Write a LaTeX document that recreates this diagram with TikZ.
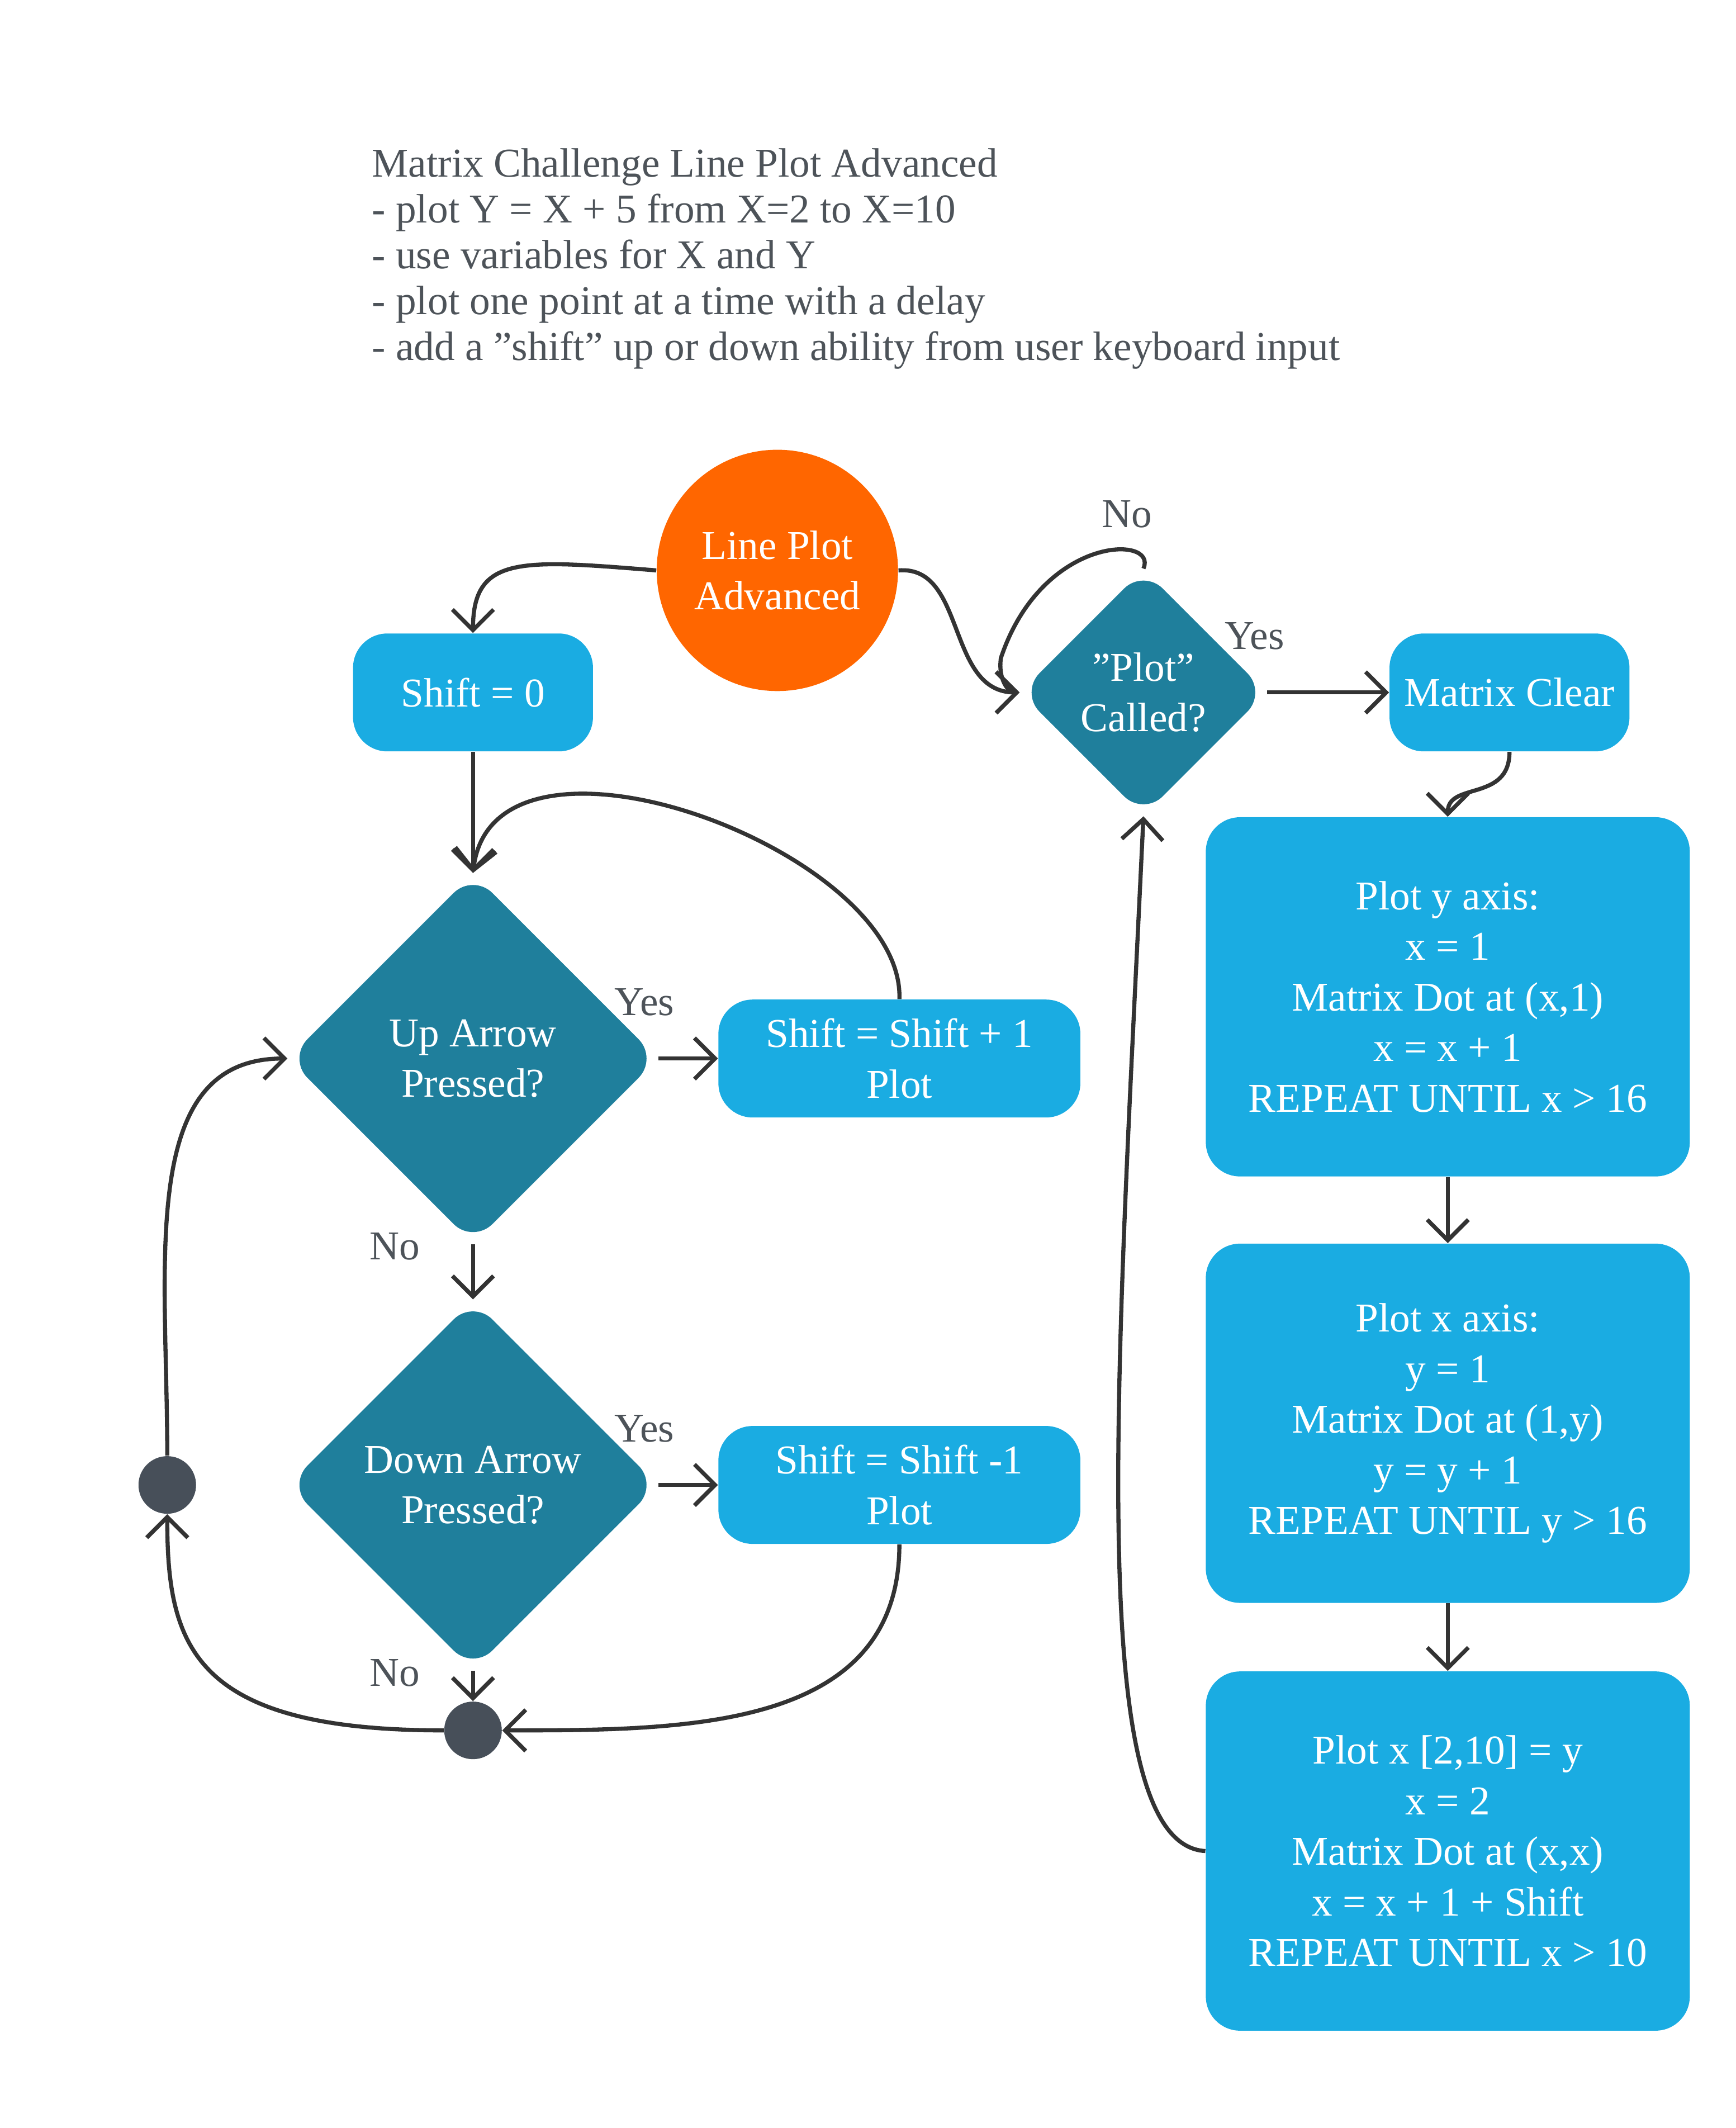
\documentclass[tikz,border=0pt]{standalone}
\usepackage{fontspec}
\setmainfont{Liberation Serif}
\usetikzlibrary{shapes.geometric,arrows.meta,positioning}
\definecolor{boxblue}{HTML}{1AACE2}
\definecolor{teal}{HTML}{1F7F9C}
\definecolor{orng}{HTML}{FF6600}
\definecolor{dotgray}{HTML}{474F59}
\definecolor{txtgray}{HTML}{4D5359}
\definecolor{linegray}{HTML}{333333}
\tikzset{
  box/.style={fill=boxblue,rounded corners=0.5cm,text=white,align=center,minimum width=3.5cm,minimum height=1.72cm,inner sep=0pt},
  bigbox/.style={box,minimum width=7.06cm,minimum height=5.24cm},
  decide/.style={diamond,aspect=1,fill=teal,rounded corners=0.4cm,text=white,align=center,inner sep=0pt},
  dot/.style={circle,fill=dotgray,minimum size=0.84cm,inner sep=0pt},
  lbl/.style={text=txtgray},
  flow/.style={draw=linegray,line width=1.7pt,-{Straight Barb[length=3mm,width=6mm]}}
}
\begin{document}
\begin{tikzpicture}[x=0.2mm,y=-0.2mm,font=\fontsize{17}{21}\selectfont]
  \useasboundingbox (0,0) rectangle (1266,1552);
  % Title
  \node[lbl,anchor=north west,align=left,inner sep=0pt] (title) at (271,108)
    {Matrix Challenge Line Plot Advanced\\[-2pt]
     - plot Y = X + 5 from X=2 to X=10\\[-2pt]
     - use variables for X and Y\\[-2pt]
     - plot one point at a time with a delay\\[-2pt]
     - add a "shift" up or down ability from user keyboard input};
  % Nodes
  \node[circle,fill=orng,text=white,align=center,minimum size=3.52cm] (start) at (567,416) {Line Plot\\Advanced};
  \node[box] (shift0) at (345,505) {Shift = 0};
  \node[decide,minimum width=3.6cm,minimum height=3.6cm] (called) at (834,505) {"Plot"\\Called?};
  \node[box] (clear) at (1101,505) {Matrix Clear};
  \node[decide,minimum width=5.4cm,minimum height=5.4cm] (up) at (345,772) {Up Arrow\\Pressed?};
  \node[box,minimum width=5.28cm] (shiftup) at (656,772) {Shift = Shift + 1\\Plot};
  \node[decide,minimum width=5.4cm,minimum height=5.4cm] (down) at (345,1083) {Down Arrow\\Pressed?};
  \node[box,minimum width=5.28cm] (shiftdown) at (656,1083) {Shift = Shift -1\\Plot};
  \node[dot] (dotleft) at (122,1083) {};
  \node[dot] (dotbot) at (345,1262) {};
  \node[bigbox] (yaxis) at (1056,727) {Plot y axis:\\x = 1\\Matrix Dot at (x,1)\\x = x + 1\\REPEAT UNTIL x > 16};
  \node[bigbox] (xaxis) at (1056,1038) {Plot x axis:\\y = 1\\Matrix Dot at (1,y)\\y = y + 1\\REPEAT UNTIL y > 16};
  \node[bigbox] (line) at (1056,1350) {Plot x [2,10] = y\\x = 2\\Matrix Dot at (x,x)\\x = x + 1 + Shift\\REPEAT UNTIL x > 10};
  % Labels
  \node[lbl] (noloop) at (822,375) {No};
  \node[lbl] (yescalled) at (915,464) {Yes};
  \node[lbl] (yesup) at (470,731) {Yes};
  \node[lbl] (noup) at (288,909) {No};
  \node[lbl] (yesdown) at (470,1042) {Yes};
  \node[lbl] (nodown) at (288,1220) {No};
  % Connectors
  \draw[flow] (start.west) .. controls (380,408) and (345,405) .. (shift0.north);
  \draw[flow] (start.east) .. controls (705,412) and (690,505) .. (called.west);
  \draw[flow] (called.north) .. controls (845,390) and (760,390) .. (730,480) .. controls (728,495) and (735,505) .. (called.west);
  \draw[flow] (called.east) -- (clear.west);
  \draw[flow] (clear.south) .. controls (1101,585) and (1056,570) .. (yaxis.north);
  \draw[flow] (yaxis.south) -- (xaxis.north);
  \draw[flow] (xaxis.south) -- (line.north);
  \draw[flow] (line.west) .. controls (790,1345) and (815,1000) .. (called.south);
  \draw[flow] (shift0.south) -- (up.north);
  \draw[flow] (up.east) -- (shiftup.west);
  \draw[flow] (shiftup.north) .. controls (660,620) and (360,510) .. (up.north);
  \draw[flow] (up.south) -- (down.north);
  \draw[flow] (down.east) -- (shiftdown.west);
  \draw[flow] (down.south) -- (dotbot.north);
  \draw[flow] (shiftdown.south) .. controls (656,1262) and (500,1262) .. (dotbot.east);
  \draw[flow] (dotbot.west) .. controls (140,1262) and (122,1200) .. (dotleft.south);
  \draw[flow] (dotleft.north) .. controls (122,920) and (100,772) .. (up.west);
\end{tikzpicture}
\end{document}
